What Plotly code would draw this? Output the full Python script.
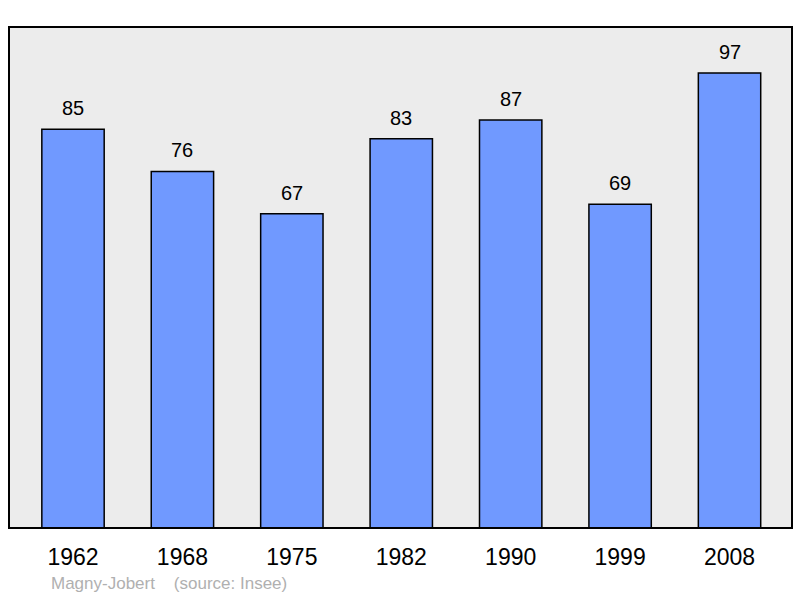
import plotly.graph_objects as go

years = ["1962", "1968", "1975", "1982", "1990", "1999", "2008"]
population = [85, 76, 67, 83, 87, 69, 97]
source_text = "Magny-Jobert    (source: Insee)"

x_idx = list(range(len(years)))
FONT = "Liberation Sans, Arial, sans-serif"

fig = go.Figure()
fig.add_trace(go.Bar(
    x=x_idx, y=population, width=0.57,
    marker=dict(color="#7099ff", line=dict(color="#000000", width=1.5)),
    hoverinfo="skip",
))

for xi, v in zip(x_idx, population):
    fig.add_annotation(x=xi, y=v, text=str(v), showarrow=False,
                       yanchor="bottom", yshift=8,
                       font=dict(size=20, color="#000000", family=FONT))

fig.add_annotation(xref="paper", yref="paper", x=0.051, y=-0.088, xanchor="left", yanchor="top",
                   text=source_text.replace("    ", "&nbsp;&nbsp;&nbsp;&nbsp;"), showarrow=False,
                   font=dict(size=17, color="#b0b0b0", family=FONT))

fig.add_shape(type="rect", xref="paper", yref="paper", x0=0, y0=0, x1=1, y1=1,
              line=dict(color="#000000", width=2), layer="above")

fig.update_layout(
    width=800, height=598,
    margin=dict(l=9, r=8, t=27, b=70),
    paper_bgcolor="#ffffff", plot_bgcolor="#ececec",
    showlegend=False,
    xaxis=dict(range=[-0.585, 6.571], tickmode="array", tickvals=x_idx, ticktext=years,
               ticks="outside", ticklen=8, tickcolor="rgba(0,0,0,0)",
               tickfont=dict(size=23, color="#000000", family=FONT),
               showgrid=False, zeroline=False, showline=False),
    yaxis=dict(range=[0, 106.8], showticklabels=False, showgrid=False, zeroline=False, showline=False),
)

fig.write_html("out.html", config={"displayModeBar": False},
               post_script="document.body.style.margin='0';document.body.style.padding='0';")
